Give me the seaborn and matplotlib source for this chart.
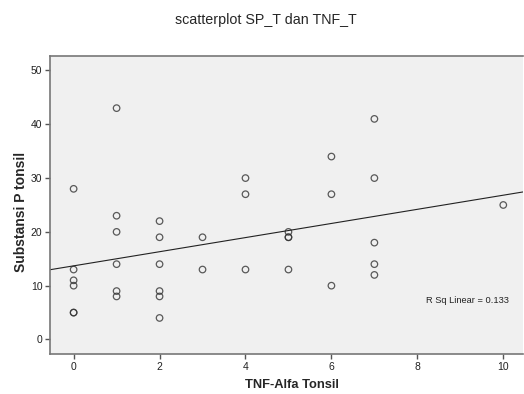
import numpy as np
import pandas as pd
import seaborn as sns
import matplotlib.pyplot as plt

# data
tnf = [0, 0, 0, 0, 0, 0,
       1, 1, 1, 1, 1, 1,
       2, 2, 2, 2, 2, 2,
       3, 3,
       4, 4, 4,
       5, 5, 5, 5,
       6, 6, 6,
       7, 7, 7, 7, 7,
       10]
sp = [28, 13, 11, 10, 5, 5,
      43, 23, 20, 14, 9, 8,
      22, 19, 14, 9, 8, 4,
      19, 13,
      30, 27, 13,
      20, 19, 19, 13,
      34, 27, 10,
      41, 30, 18, 14, 12,
      25]
r2_label = "R Sq Linear = 0.133"

df = pd.DataFrame({"TNF_T": tnf, "SP_T": sp})

sns.set_style("white")
plt.rcParams['font.family'] = ['Liberation Sans', 'DejaVu Sans']

fig = plt.figure(figsize=(5.24, 3.94), dpi=100)
ax = fig.add_axes([0.0954, 0.1015, 0.9036, 0.7565])
ax.set_facecolor("#f0f0f0")
ax.set_xlim(-0.55, 10.47)
ax.set_ylim(-2.7, 52.7)

sns.regplot(data=df, x="TNF_T", y="SP_T", ax=ax, ci=None, truncate=False,
            scatter_kws={"s": 22, "facecolors": "none", "edgecolors": "#333333", "linewidths": 0.9},
            line_kws={"color": "#222222", "linewidth": 0.8})

ax.set_xticks([0, 2, 4, 6, 8, 10])
ax.set_yticks([0, 10, 20, 30, 40, 50])
ax.tick_params(axis="both", which="major", bottom=True, left=True, direction="out",
               length=3.5, width=1, color="#555555",
               labelsize=7.5, labelcolor="#222222", pad=2)
for side in ["left", "bottom", "top"]:
    ax.spines[side].set_color("#777777")
    ax.spines[side].set_linewidth(1.2)
ax.spines["right"].set_visible(False)

ax.set_xlabel("TNF-Alfa Tonsil", fontsize=9.3, fontweight="bold")
ax.set_ylabel("Substansi P tonsil", fontsize=10, fontweight="bold")
ax.xaxis.set_label_coords(0.51, -0.085)
ax.yaxis.set_label_coords(-0.046, 0.475)
ax.text(10.14, 7.3, r2_label, fontsize=6.7, ha="right", va="center", color="#222222")

fig.suptitle("scatterplot SP_T dan TNF_T", x=0.508, y=0.967, fontsize=10.3)

fig.savefig("out.png", dpi=100)
